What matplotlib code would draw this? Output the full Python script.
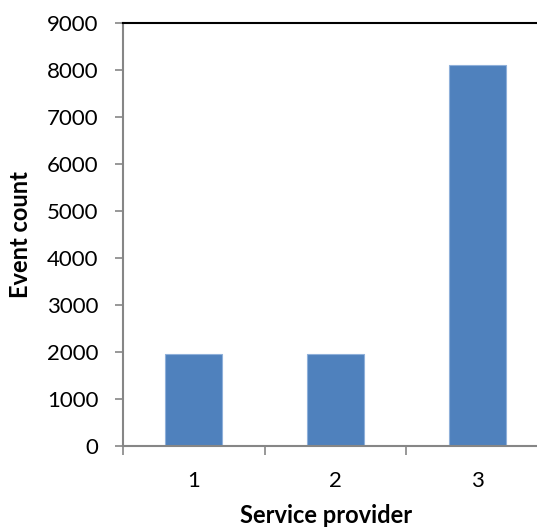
import matplotlib
matplotlib.use("Agg")
import matplotlib.pyplot as plt

# values
providers = [1, 2, 3]
event_counts = [1950, 1950, 8100]
y_ticks = [0, 1000, 2000, 3000, 4000, 5000, 6000, 7000, 8000, 9000]

plt.rcParams['font.family'] = ['Lato', 'DejaVu Sans']

fig = plt.figure(figsize=(5.37, 5.32), dpi=100)
# the plot area runs a bit past the right edge, as in the reference
ax = fig.add_axes([0.229, 0.1617, 0.7916, 0.7951])

ax.bar(providers, event_counts, width=0.4, color='#4F81BD', edgecolor='#8FB0DA', linewidth=0.8, zorder=2)

ax.set_xlim(0.5, 3.5)
ax.set_ylim(0, 9000)
ax.set_yticks(y_ticks)
ax.set_yticklabels([str(v) for v in y_ticks])

# category boundaries carry the tick marks, labels sit between them
ax.set_xticks([0.5, 1.5, 2.5, 3.5])
ax.set_xticklabels([])
ax.set_xticks(providers, minor=True)
ax.set_xticklabels([str(p) for p in providers], minor=True)
ax.tick_params(axis='x', which='major', direction='out', length=6.5, width=1.2, color='#868686')
ax.tick_params(axis='x', which='minor', length=0, pad=18, labelsize=16)
ax.tick_params(axis='y', direction='out', length=5.8, width=1.2, color='#868686', pad=12, labelsize=16)

ax.spines['left'].set_color('#868686')
ax.spines['left'].set_linewidth(1.5)
ax.spines['bottom'].set_color('#868686')
ax.spines['bottom'].set_linewidth(1.5)
ax.spines['top'].set_color('black')
ax.spines['top'].set_linewidth(1.5)
ax.spines['right'].set_visible(False)

ax.set_xlabel("Service provider", fontsize=17, fontweight='bold')
ax.xaxis.set_label_coords(0.478, -0.137)
ax.set_ylabel("Event count", fontsize=17, fontweight='bold')
ax.yaxis.set_label_coords(-0.214, 0.5)

fig.savefig("out.png", dpi=100)
